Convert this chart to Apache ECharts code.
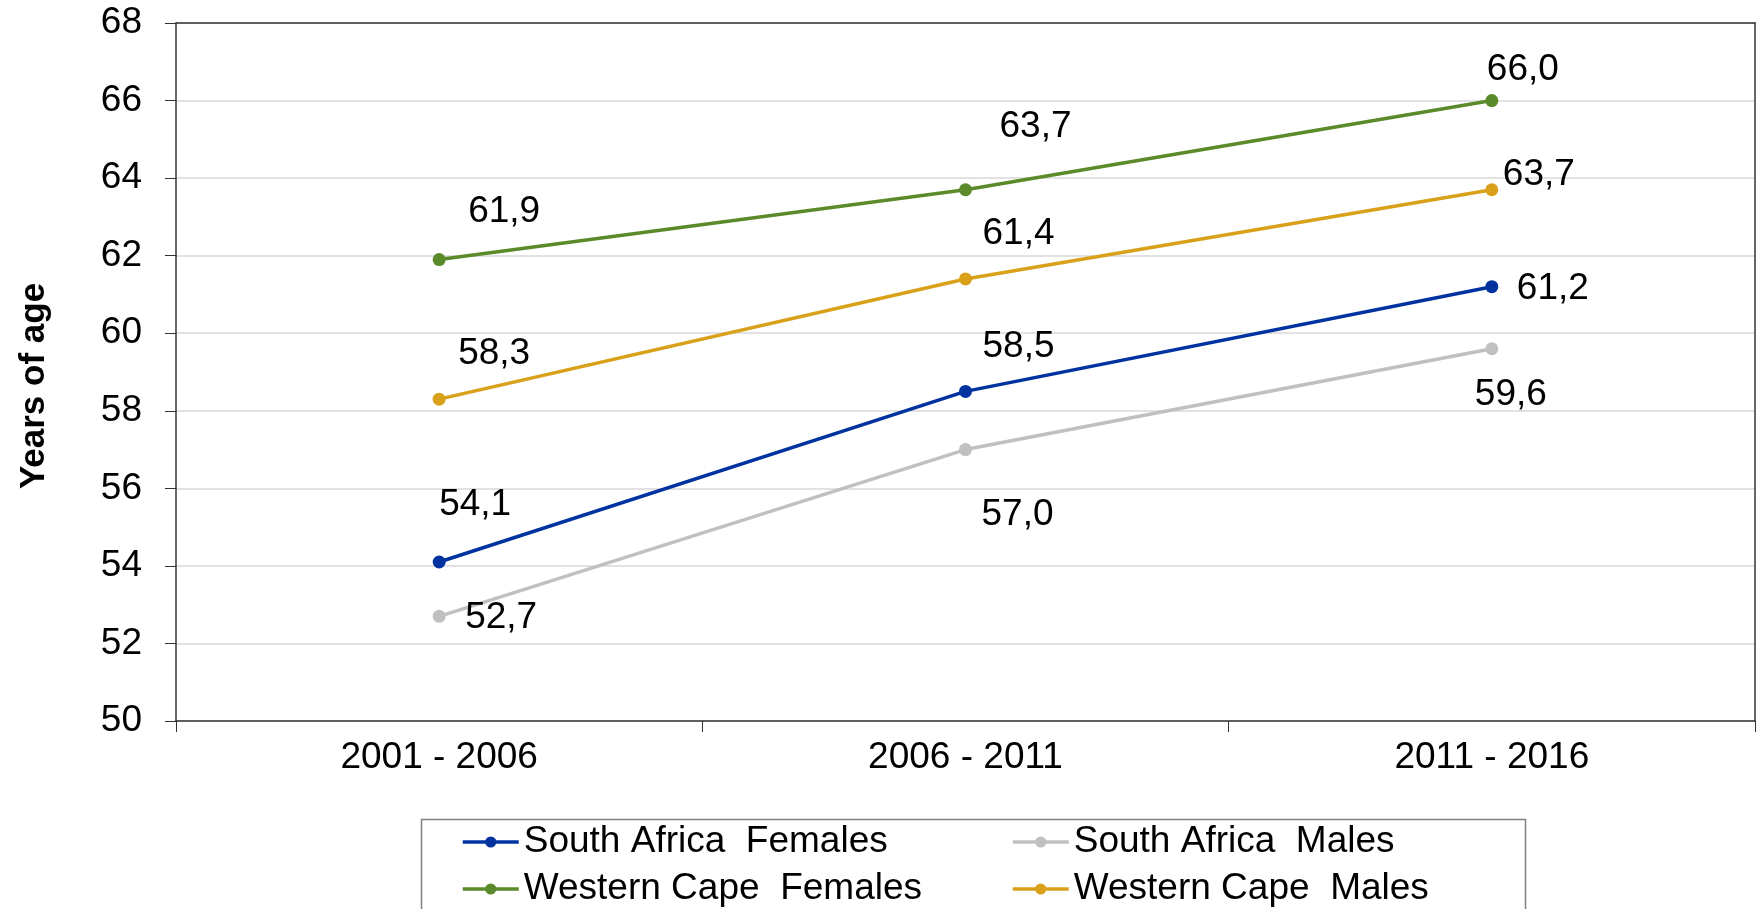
<!DOCTYPE html>
<html>
<head>
<meta charset="utf-8">
<script src="https://cdn.jsdelivr.net/npm/echarts@6/dist/echarts.min.js"></script>
<style>
  html, body { margin: 0; padding: 0; background: #fff; }
  #chart { width: 1762px; height: 909px; }
</style>
</head>
<body>
<div id="chart"></div>
<script>
const periods = ['2001 - 2006', '2006 - 2011', '2011 - 2016']
const saFemales = [54.1, 58.5, 61.2]
const saMales = [52.7, 57.0, 59.6]
const wcFemales = [61.9, 63.7, 66.0]
const wcMales = [58.3, 61.4, 63.7]
const yTicks = [50, 52, 54, 56, 58, 60, 62, 64, 66, 68]

// hand-placed data label offsets (px), like the original
const labelOffsets = {
  saF: [[36, -57], [53, -45], [61, 2]],
  saM: [[62, 1], [52, 65], [19, 46]],
  wcF: [[65, -48], [70, -63], [31, -31]],
  wcM: [[55, -45], [53, -45], [47, -15]]
}

const font = "'Liberation Sans', Arial, sans-serif"
const fmt = v => v.toFixed(1).replace('.', ',')
const dark = '#333'

const makeSeries = (name, values, offsets, color) => ({
  name: name,
  type: 'line',
  symbol: 'circle',
  symbolSize: 13,
  lineStyle: { width: 3.5, color: color },
  itemStyle: { color: color },
  data: values.map((v, i) => ({
    value: v,
    label: { offset: offsets[i] }
  })),
  label: {
    show: true,
    position: 'inside',
    color: '#000',
    fontFamily: font,
    fontSize: 37,
    formatter: p => fmt(p.value)
  },
  emphasis: { disabled: true },
  animation: false
})

const legendText = { color: '#000', fontFamily: font, fontSize: 37, lineHeight: 40 }

const chart = echarts.init(document.getElementById('chart'))

chart.setOption({
  backgroundColor: '#fff',
  grid: { left: 176, right: 7, top: 23, bottom: 188 },
  xAxis: [
    {
      type: 'category',
      data: periods,
      boundaryGap: true,
      axisLine: { lineStyle: { color: dark, width: 1.5 } },
      axisTick: { show: true, length: 11, lineStyle: { color: dark } },
      axisLabel: { color: '#000', fontFamily: font, fontSize: 37, margin: 18 },
      splitLine: { show: false }
    },
    {
      // top frame line of the plot area
      type: 'category',
      position: 'top',
      data: periods,
      axisLine: { show: true, lineStyle: { color: dark, width: 1.5 } },
      axisTick: { show: false },
      axisLabel: { show: false },
      splitLine: { show: false }
    }
  ],
  yAxis: [
    {
      type: 'value',
      min: yTicks[0],
      max: yTicks[yTicks.length - 1],
      interval: 2,
      name: 'Years of age',
      nameLocation: 'middle',
      nameGap: 124,
      nameTextStyle: {
        color: '#000', fontFamily: font, fontSize: 35, fontWeight: 'bold',
        padding: [0, 28, 0, 0]
      },
      axisLine: { show: true, lineStyle: { color: dark, width: 1.5 } },
      axisTick: { show: true, length: 11, lineStyle: { color: dark } },
      axisLabel: { color: '#000', fontFamily: font, fontSize: 37, margin: 34 },
      splitLine: { lineStyle: { color: '#d9d9d9', width: 1.5 } }
    },
    {
      // right frame line of the plot area
      type: 'value',
      position: 'right',
      min: yTicks[0],
      max: yTicks[yTicks.length - 1],
      interval: 2,
      axisLine: { show: true, lineStyle: { color: dark, width: 1.5 } },
      axisTick: { show: false },
      axisLabel: { show: false },
      splitLine: { show: false }
    }
  ],
  legend: [
    {
      orient: 'vertical',
      left: 461, top: 822, padding: 0,
      itemWidth: 56, itemHeight: 14, itemGap: 7,
      lineStyle: { width: 3.5 },
      data: ['South Africa  Females', 'Western Cape  Females'],
      textStyle: legendText
    },
    {
      orient: 'vertical',
      left: 1011, top: 822, padding: 0,
      itemWidth: 56, itemHeight: 14, itemGap: 7,
      lineStyle: { width: 3.5 },
      data: ['South Africa  Males', 'Western Cape  Males'],
      textStyle: legendText
    }
  ],
  graphic: [{
    type: 'rect',
    left: 419, top: 817,
    shape: { width: 1104, height: 120 },
    style: { fill: 'none', stroke: '#7f7f7f', lineWidth: 1.5 },
    silent: true
  }],
  series: [
    makeSeries('South Africa  Females', saFemales, labelOffsets.saF, '#0033a0'),
    makeSeries('South Africa  Males', saMales, labelOffsets.saM, '#c0c0c0'),
    makeSeries('Western Cape  Females', wcFemales, labelOffsets.wcF, '#5b8a2a'),
    makeSeries('Western Cape  Males', wcMales, labelOffsets.wcM, '#d9a01a')
  ]
})
</script>
</body>
</html>
